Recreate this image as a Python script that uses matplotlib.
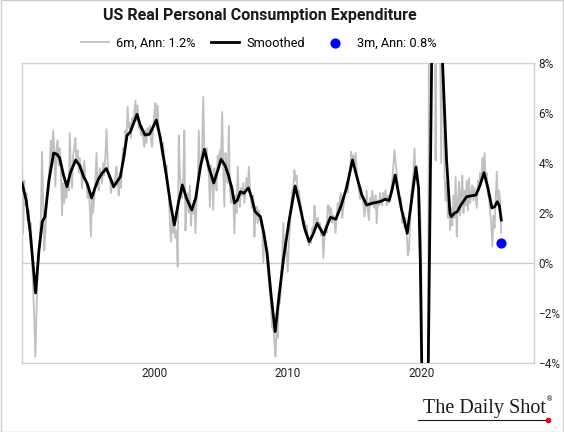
import matplotlib.pyplot as plt
import numpy as np

# 6m annualized, monthly, Jan 1990 - Dec 2025
gray_by_year = {
    1990: [4.2, 1.2, 3.3, 2.3, 2.8, 1.7, 2.1, 1.3, 1.6, 0.2, -1.0, -2.2],
    1991: [-3.75, -2.0, -0.5, 0.3, 1.0, 1.8, 4.45, 2.5, 0.5, 1.2, 2.2, 3.0],
    1992: [3.4, 4.0, 4.9, 4.3, 5.3, 4.6, 3.05, 4.5, 4.9, 3.9, 4.6, 3.8],
    1993: [1.9, 3.2, 2.4, 3.4, 2.6, 3.3, 2.9, 5.2, 3.7, 3.0, 4.3, 4.6],
    1994: [5.0, 4.0, 4.5, 3.6, 4.2, 3.8, 3.0, 3.6, 4.1, 3.4, 3.2, 2.6],
    1995: [3.0, 2.2, 1.05, 2.8, 2.0, 2.6, 3.3, 4.4, 3.2, 2.9, 3.8, 3.5],
    1996: [3.2, 4.0, 3.5, 4.3, 5.35, 4.1, 3.4, 3.5, 2.8, 3.3, 3.0, 3.2],
    1997: [3.5, 3.85, 3.2, 2.7, 3.6, 3.0, 4.1, 4.6, 4.2, 5.3, 5.0, 6.25],
    1998: [5.4, 5.6, 5.0, 5.8, 5.5, 6.0, 6.5, 5.7, 6.3, 5.4, 5.6, 5.1],
    1999: [5.5, 5.0, 4.65, 5.3, 4.8, 5.4, 5.1, 5.5, 4.9, 4.65, 5.4, 6.0],
    2000: [6.4, 5.4, 6.3, 5.2, 5.0, 4.6, 4.3, 4.8, 3.8, 3.6, 3.9, 3.2],
    2001: [2.8, 1.6, 0.85, 1.8, 1.2, 1.5, 1.0, 1.3, -0.15, 5.1, 3.6, 3.0],
    2002: [2.6, 3.4, 5.3, 1.3, 2.4, 2.8, 2.0, 3.1, 1.5, 2.2, 2.0, 2.5],
    2003: [1.2, 2.4, 3.0, 5.3, 3.6, 3.9, 4.6, 6.65, 4.5, 4.2, 4.6, 3.8],
    2004: [3.6, 2.25, 3.9, 3.4, 2.12, 3.8, 3.3, 2.9, 4.3, 3.9, 4.5, 4.2],
    2005: [6.05, 3.9, 2.25, 4.4, 3.6, 3.2, 5.5, 3.0, 2.4, 3.1, 2.6, 1.19],
    2006: [2.7, 2.0, 3.85, 2.6, 2.25, 3.0, 2.7, 3.2, 2.4, 2.9, 3.4, 2.9],
    2007: [3.85, 3.0, 2.5, 2.2, 2.7, 1.05, 1.9, 2.25, 1.6, 2.1, 1.9, 1.5],
    2008: [1.4, 0.0, 1.0, 0.8, 0.3, -0.2, -0.8, -1.2, -1.8, -2.6, -2.5, -3.2],
    2009: [-3.75, -2.5, -3.0, -1.2, -1.6, -0.5, 0.2, 1.6, 0.6, 0.9, 0.4, -0.35],
    2010: [0.8, 1.5, 2.4, 2.9, 3.0, 3.72, 3.3, 3.5, 2.8, 2.9, 2.5, 2.2],
    2011: [2.0, 1.5, 1.7, 1.2, 1.5, 1.0, 0.7, 0.99, 0.8, 1.4, 1.3, 2.3],
    2012: [1.8, 1.5, 1.8, 1.4, 1.6, 1.1, 1.3, 0.2, 1.0, 1.5, 1.2, 2.3],
    2013: [2.3, 1.7, 2.2, 1.6, 1.9, 1.7, 1.2, 1.9, 2.4, 2.0, 2.6, 2.8],
    2014: [1.8, 2.2, 2.7, 3.0, 3.2, 2.8, 3.4, 3.7, 4.45, 4.1, 4.3, 3.9],
    2015: [4.4, 3.6, 3.3, 2.9, 2.55, 3.0, 2.6, 2.4, 1.85, 2.3, 2.9, 2.1],
    2016: [1.72, 2.6, 2.3, 2.9, 2.4, 2.2, 2.7, 1.59, 2.5, 2.3, 2.8, 2.4],
    2017: [2.3, 2.8, 2.5, 2.92, 2.3, 2.7, 2.4, 2.6, 2.9, 3.3, 3.9, 4.52],
    2018: [4.0, 3.6, 3.1, 2.7, 2.4, 2.6, 1.6, 2.0, 1.4, 1.8, 1.2, 0.3],
    2019: [0.5, 1.5, 2.8, 3.2, 3.6, 4.59, 3.4, 3.9, 3.3, 2.8, 2.2, 0.8],
    2020: [-6, -15, -30, -25, -20, -8, 10, 20, 25, 18, 10, 12],
    2021: [4.1, 15, 20, 14, 9, 4.0, 10, 6.5, 3.5, 2.5, 3.2, 1.8],
    2022: [2.6, 1.32, 2.2, 1.5, 2.7, 1.8, 3.45, 1.05, 2.4, 3.25, 1.9, 2.8],
    2023: [3.5, 2.0, 2.9, 2.3, 3.3, 2.1, 3.4, 2.4, 2.8, 3.1, 2.5, 3.0],
    2024: [2.6, 2.2, 3.3, 2.9, 3.6, 3.2, 4.2, 3.5, 4.4, 3.4, 3.6, 2.7],
    2025: [2.7, 2.0, 1.6, 0.65, 1.9, 1.4, 2.6, 3.65, 2.3, 2.9, 2.5, 1.2],
}

# smoothed line, read at turning points (decimal year, %)
smooth_t = [1990.08, 1990.4, 1990.7, 1990.9, 1991.1, 1991.35, 1991.6, 1991.8, 1992.1, 1992.45,
            1992.7, 1992.9, 1993.2, 1993.45, 1993.7, 1994.1, 1994.4, 1994.7, 1994.95, 1995.3,
            1995.55, 1995.8, 1996.1, 1996.4, 1996.7, 1996.95, 1997.2, 1997.45, 1997.7, 1997.95,
            1998.2, 1998.45, 1998.7, 1998.95, 1999.3, 1999.65, 2000.15, 2000.45, 2000.8, 2001.2,
            2001.5, 2001.8, 2002.1, 2002.4, 2002.8, 2003.1, 2003.45, 2003.75, 2004.1, 2004.45,
            2004.75, 2005.0, 2005.3, 2005.55, 2005.8, 2006.0, 2006.2, 2006.45, 2006.7, 2007.05,
            2007.3, 2007.55, 2007.95, 2008.2, 2008.45, 2008.75, 2009.05, 2009.35, 2009.7, 2010.1,
            2010.55, 2010.9, 2011.25, 2011.6, 2011.9, 2012.2, 2012.45, 2012.7, 2012.95, 2013.2,
            2013.6, 2014.0, 2014.4, 2014.85, 2015.2, 2015.55, 2015.9, 2016.4, 2016.9, 2017.3,
            2017.6, 2017.8, 2018.05, 2018.5, 2018.95, 2019.3, 2019.6, 2019.8, 2019.93, 2020.05,
            2020.2, 2020.4, 2020.53, 2020.78, 2021.0, 2021.3, 2021.6, 2021.9, 2022.15, 2022.25,
            2022.5, 2022.7, 2022.95, 2023.4, 2024.1, 2024.4, 2024.7, 2025.0, 2025.3, 2025.5,
            2025.7, 2025.85, 2026.0]
smooth_v = [3.2, 2.5, 1.2, 0.0, -1.2, 0.5, 1.65, 1.85, 3.3, 4.4,
            4.35, 4.2, 3.5, 3.05, 3.6, 4.12, 3.9, 3.45, 3.2, 2.6,
            3.0, 3.35, 3.6, 3.78, 3.4, 3.05, 3.25, 3.45, 4.2, 5.1,
            5.25, 5.6, 5.95, 5.5, 5.12, 5.16, 5.72, 5.0, 3.85, 2.4,
            1.52, 2.4, 3.12, 2.6, 2.12, 2.6, 3.85, 4.55, 3.8, 3.2,
            3.7, 4.15, 3.9, 3.52, 3.0, 2.4, 2.5, 2.85, 2.79, 3.0,
            2.6, 2.05, 1.85, 1.2, 0.39, -1.3, -2.75, -1.3, 0.25, 1.7,
            3.08, 2.3, 1.4, 0.85, 1.15, 1.59, 1.35, 1.12, 1.5, 1.83,
            1.75, 2.3, 3.0, 4.12, 3.4, 2.72, 2.32, 2.4, 2.45, 2.55,
            2.5, 2.9, 3.52, 2.2, 1.19, 2.6, 3.83, 3.0, 0.1, -4.5,
            -12, -12, -4, 8, 13, 13, 8, 4.1, 2.0, 1.85,
            2.0, 2.05, 2.3, 2.65, 2.72, 3.1, 3.61, 3.0, 2.2, 2.25,
            2.45, 2.3, 1.72]

last_3m = 0.8
last_6m = 1.2

gray = [v for y in sorted(gray_by_year) for v in gray_by_year[y]]
gray_t = 1990.08 + np.arange(len(gray)) / 12

plt.rcParams['font.family'] = ['Roboto', 'DejaVu Sans']

fig = plt.figure(figsize=(5.64, 4.32), dpi=100)
ax = fig.add_axes([0.039, 0.160, 0.908, 0.694])

ax.axhline(0, color='#cccccc', lw=0.9, zorder=1)
ax.plot(gray_t, gray, color='#c0c0c0', lw=1.3, label='6m, Ann: %.1f%%' % last_6m, zorder=2)
ax.plot(smooth_t, smooth_v, color='black', lw=2.0, label='Smoothed', zorder=3)
ax.scatter([gray_t[-1]], [last_3m], color='#0000ff', s=40, zorder=4,
           label='3m, Ann: %.1f%%' % last_3m)

ax.set_xlim(1990.08, 2028.46)
ax.set_ylim(-4, 8)
ax.set_xticks([2000, 2010, 2020])
ax.set_yticks(range(-4, 9, 2))
ax.set_yticklabels(['\u2212%d%%' % -v if v < 0 else '%d%%' % v for v in range(-4, 9, 2)])
ax.yaxis.tick_right()
ax.tick_params(length=0, labelsize=8.5, colors='#222222', pad=3)
for s in ax.spines.values():
    s.set_color('#d0d0d0')
    s.set_linewidth(1.0)

fig.text(0.46, 0.965, 'US Real Personal Consumption Expenditure', ha='center', va='center',
         fontsize=11.5, fontweight='bold', color='#1a1a1a')
fig.legend(loc='center', bbox_to_anchor=(0.458, 0.9), ncol=3, frameon=False, fontsize=9.2,
           handlelength=2.2, columnspacing=1.2, handletextpad=0.6)

# logo
fig.text(0.968, 0.055, 'The Daily Shot', ha='right', va='center', fontsize=14.5,
         family='Liberation Serif', color='#1a1a1a')
fig.text(0.970, 0.074, '\u00ae', ha='left', va='center', fontsize=5, color='#1a1a1a')
fig.add_artist(plt.Line2D([0.742, 0.968], [0.028, 0.028], color='#1a1a1a', lw=0.8))
fig.add_artist(plt.Line2D([0.971], [0.028], marker='o', color='#e00000', ms=3))

fig.add_artist(plt.Rectangle((0.001, 0.001), 0.998, 0.998, fill=False, ec='#cccccc', lw=1.0,
                             transform=fig.transFigure))

fig.savefig('out.png', dpi=100)
